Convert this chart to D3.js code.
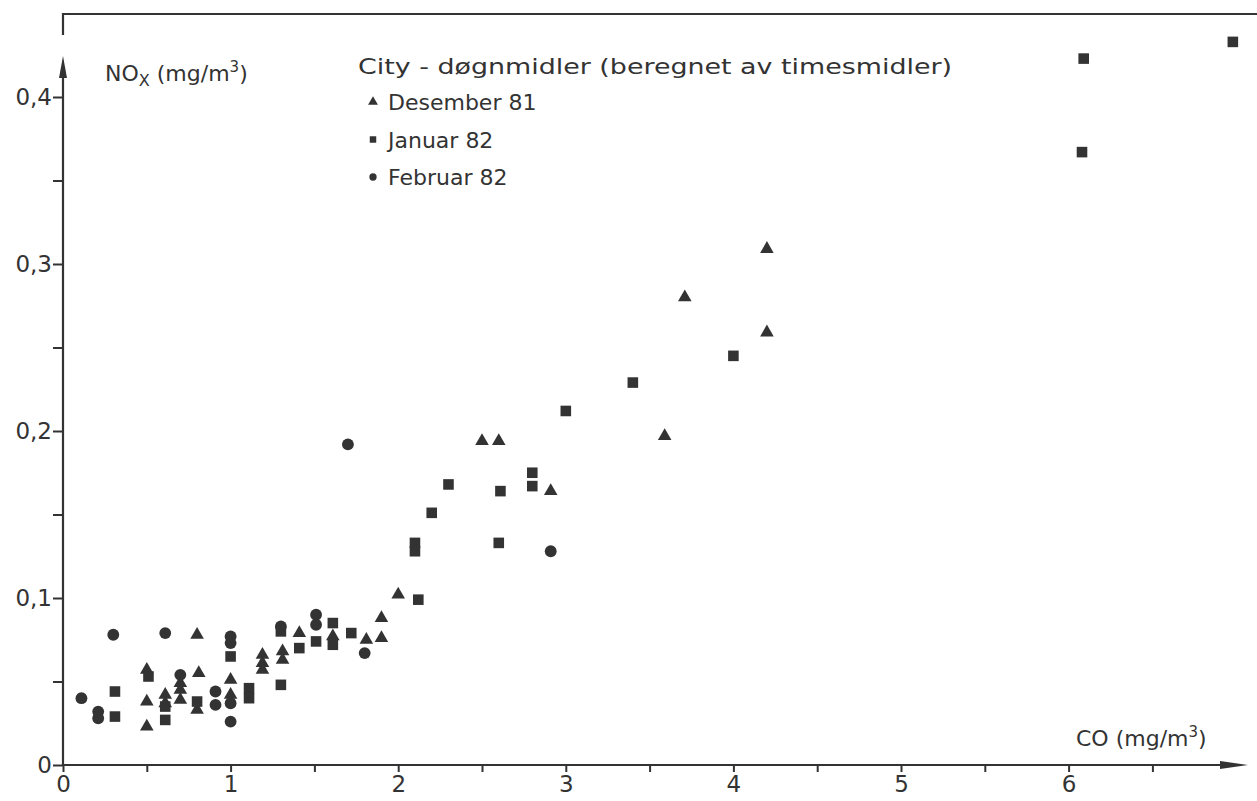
<!DOCTYPE html>
<html>
<head>
<meta charset="utf-8">
<script src="https://cdn.jsdelivr.net/npm/d3@7"></script>
<style>
  body { margin: 0; background: #fff; }
  svg { display: block; }
  text { font-family: "DejaVu Sans", sans-serif; fill: #333; }
</style>
</head>
<body>
<div id="chart"></div>
<script>
// ---------- data (CO, NOx in mg/m3) ----------
const desember81 = [
  [0.50, 0.057], [0.50, 0.038], [0.50, 0.023],
  [0.61, 0.042], [0.61, 0.037],
  [0.70, 0.049], [0.70, 0.045], [0.70, 0.039],
  [0.80, 0.078], [0.81, 0.055], [0.80, 0.033],
  [1.00, 0.051], [1.00, 0.042],
  [1.19, 0.066], [1.19, 0.061], [1.19, 0.057],
  [1.31, 0.068], [1.31, 0.063],
  [1.41, 0.079], [1.61, 0.077], [1.81, 0.075],
  [1.90, 0.088], [1.90, 0.076], [2.00, 0.102],
  [2.50, 0.194], [2.60, 0.194], [2.91, 0.164],
  [3.59, 0.197], [3.71, 0.280], [4.20, 0.309], [4.20, 0.259]
];
const januar82 = [
  [0.31, 0.044], [0.31, 0.029], [0.51, 0.053],
  [0.61, 0.035], [0.61, 0.027], [0.80, 0.038],
  [1.00, 0.065], [1.11, 0.046], [1.11, 0.040],
  [1.30, 0.080], [1.30, 0.048], [1.41, 0.070],
  [1.51, 0.074], [1.61, 0.085], [1.61, 0.072], [1.72, 0.079],
  [2.10, 0.133], [2.10, 0.128], [2.12, 0.099],
  [2.20, 0.151], [2.30, 0.168],
  [2.61, 0.164], [2.60, 0.133], [2.80, 0.175], [2.80, 0.167],
  [3.00, 0.212], [3.40, 0.229], [4.00, 0.245],
  [6.09, 0.423], [6.08, 0.367], [6.98, 0.433]
];
const februar82 = [
  [0.11, 0.040], [0.21, 0.032], [0.21, 0.028],
  [0.30, 0.078], [0.61, 0.079], [0.70, 0.054],
  [0.91, 0.044], [0.91, 0.036],
  [1.00, 0.077], [1.00, 0.073], [1.00, 0.037], [1.00, 0.026],
  [1.30, 0.083], [1.51, 0.090], [1.51, 0.084],
  [1.70, 0.192], [1.80, 0.067], [2.91, 0.128]
];
const seriesNames = ["Desember 81", "Januar 82", "Februar 82"];
const legendTitle = "City - døgnmidler (beregnet av timesmidler)";
const xTicks = d3.range(0, 7, 0.5);
const yTicks = d3.range(0, 0.45, 0.05);

// ---------- setup ----------
const width = 1257, height = 801;
const ink = "#333";

const svg = d3.select("#chart").append("svg")
  .attr("width", width).attr("height", height);

const x = d3.scaleLinear().domain([0, 7]).range([63, 63 + 7 * 167.6]);
const y = d3.scaleLinear().domain([0, 0.4]).range([765, 97]);

// frame remnant at top
svg.append("path")
  .attr("d", `M63,35 V14 H${width}`)
  .attr("fill", "none").attr("stroke", ink).attr("stroke-width", 2.2);

// ---------- axes ----------
const xAxis = svg.append("g")
  .attr("transform", `translate(0,${y(0)})`)
  .call(d3.axisBottom(x).tickValues(xTicks).tickSize(7).tickSizeOuter(0)
    .tickFormat(d => Number.isInteger(d) ? d : ""));
xAxis.select(".domain").remove();
xAxis.selectAll("line").attr("stroke", ink).attr("stroke-width", 2);
xAxis.selectAll("text").attr("font-size", 23).attr("dy", "0.72em").attr("fill", ink);

const yAxis = svg.append("g")
  .attr("transform", `translate(${x(0)},0)`)
  .call(d3.axisLeft(y).tickValues(yTicks).tickSize(10).tickSizeOuter(0)
    .tickFormat(d => {
      const r = Math.round(d * 100) / 100;
      if (r === 0) return "0";
      return Math.round(r * 100) % 10 === 0 ? String(r).replace(".", ",") : "";
    }));
yAxis.select(".domain").remove();
yAxis.selectAll("line").attr("stroke", ink).attr("stroke-width", 2);
yAxis.selectAll("text").attr("font-size", 23).attr("fill", ink).attr("x", -11);

// axis lines with arrow heads
svg.append("line")
  .attr("x1", x(0)).attr("y1", y(0)).attr("x2", x(0)).attr("y2", 70)
  .attr("stroke", ink).attr("stroke-width", 2.2);
svg.append("path")
  .attr("d", `M${x(0)},56 L${x(0) - 4},78 L${x(0) + 4},78 Z`).attr("fill", ink);
svg.append("line")
  .attr("x1", x(0)).attr("y1", y(0)).attr("x2", 1230).attr("y2", y(0))
  .attr("stroke", ink).attr("stroke-width", 2.2);
svg.append("path")
  .attr("d", `M1248,${y(0)} L1220,${y(0) - 4} L1220,${y(0) + 4} Z`).attr("fill", ink);

// axis titles
const yTitle = svg.append("text").attr("x", 105).attr("y", 81).attr("font-size", 22);
yTitle.append("tspan").text("NO");
yTitle.append("tspan").attr("font-size", 16).attr("dy", 5).text("X");
yTitle.append("tspan").attr("dy", -5).text(" (mg/m");
yTitle.append("tspan").attr("font-size", 15).attr("dy", -9).text("3");
yTitle.append("tspan").attr("dy", 9).text(")");

const xTitle = svg.append("text").attr("x", 1076).attr("y", 746).attr("font-size", 22);
xTitle.append("tspan").text("CO (mg/m");
xTitle.append("tspan").attr("font-size", 15).attr("dy", -9).text("3");
xTitle.append("tspan").attr("dy", 9).text(")");

// ---------- points ----------
const shapes = [d3.symbolTriangle, d3.symbolSquare, d3.symbolCircle];
const sizes = [80, 112, 110];
const allSeries = [desember81, januar82, februar82];

allSeries.forEach((data, i) => {
  svg.append("g").selectAll("path")
    .data(data)
    .join("path")
    .attr("transform", d => `translate(${x(d[0])},${y(d[1])})`)
    .attr("d", d3.symbol().type(shapes[i]).size(sizes[i]))
    .attr("fill", ink);
});

// ---------- legend ----------
const legend = svg.append("g");
legend.append("text").attr("x", 358).attr("y", 74).attr("font-size", 22)
  .attr("textLength", 594).attr("lengthAdjust", "spacingAndGlyphs")
  .text(legendTitle);

seriesNames.forEach((name, i) => {
  const cy = 102 + i * 37.5;
  legend.append("path")
    .attr("transform", `translate(373,${cy})`)
    .attr("d", d3.symbol().type(shapes[i]).size(42))
    .attr("fill", ink);
  legend.append("text").attr("x", 388).attr("y", cy + 8).attr("font-size", 22)
    .text(name);
});
</script>
</body>
</html>
